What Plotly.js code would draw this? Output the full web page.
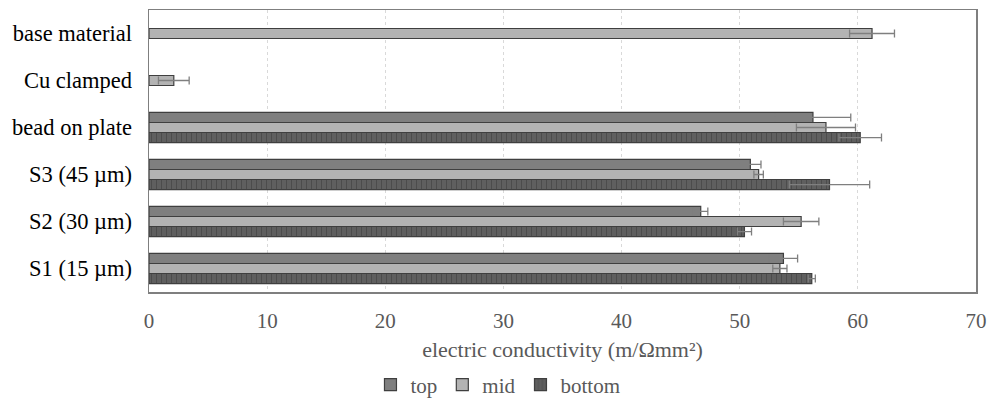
<!DOCTYPE html>
<html>
<head>
<meta charset="utf-8">
<script src="https://cdn.plot.ly/plotly-3.0.1.min.js"></script>
<style>html,body{margin:0;padding:0;background:#fff;}#chart{width:990px;height:399px;}</style>
</head>
<body>
<div id="chart"></div>
<script>
// categories listed top to bottom (y axis reversed)
const categories = ["base material", "Cu clamped", "bead on plate", "S3 (45 µm)", "S2 (30 µm)", "S1 (15 µm)"];
const topValues    = [null, null, 56.2, 50.9, 46.7, 53.7];
const topErrors    = [null, null, 3.2, 0.9, 0.6, 1.2];
const midValues    = [61.2, 2.1, 57.3, 51.6, 55.2, 53.4];
const midErrors    = [1.9, 1.3, 2.5, 0.4, 1.5, 0.6];
const bottomValues = [null, null, 60.2, 57.6, 50.4, 56.1];
const bottomErrors = [null, null, 1.8, 3.4, 0.6, 0.3];
const xTicks = [0, 10, 20, 30, 40, 50, 60, 70];

const SERIF = 'Liberation Serif';

const errStyle = (arr) => ({type: 'data', array: arr, symmetric: true, visible: true,
  color: '#7f7f7f', thickness: 1.3, width: 4});

const traces = [
  {name: 'top', type: 'bar', orientation: 'h', y: categories, x: topValues,
   error_x: errStyle(topErrors),
   marker: {color: '#7f7f7f', line: {color: '#3f3f3f', width: 1.2}}},
  {name: 'mid', type: 'bar', orientation: 'h', y: categories, x: midValues,
   error_x: errStyle(midErrors),
   marker: {color: '#b3b3b3', line: {color: '#3f3f3f', width: 1.2}}},
  {name: 'bottom', type: 'bar', orientation: 'h', y: categories, x: bottomValues,
   error_x: errStyle(bottomErrors),
   marker: {color: '#5a5a5a', line: {color: '#3f3f3f', width: 1.2},
            pattern: {shape: '|', fgcolor: '#4c4c4c', bgcolor: '#5f5f5f', size: 5, solidity: 0.2}}}
];

const layout = {
  width: 990, height: 399,
  margin: {l: 149, r: 14, t: 10, b: 107},
  paper_bgcolor: '#fff', plot_bgcolor: '#fff',
  barmode: 'group', bargap: 0.36, bargroupgap: 0,
  font: {family: SERIF, size: 21, color: '#595959'},
  xaxis: {
    range: [0, 70], tickvals: xTicks, ticktext: xTicks.map(String),
    showgrid: true, gridcolor: '#d9d9d9', griddash: 'dot', gridwidth: 1,
    zeroline: false, showline: true, mirror: true, linecolor: '#7f7f7f', linewidth: 1.5,
    ticks: '', ticklen: 0, ticklabelstandoff: 9,
    tickfont: {family: SERIF, size: 21, color: '#595959'},
    title: {text: 'electric conductivity (m/Ωmm²)', standoff: 10,
            font: {family: SERIF, size: 22, color: '#595959'}}
  },
  yaxis: {
    type: 'category', autorange: 'reversed',
    showgrid: false, zeroline: false, showline: true, mirror: true,
    linecolor: '#7f7f7f', linewidth: 1.5, ticks: '', ticklabelstandoff: 11,
    tickfont: {family: SERIF, size: 22.5, color: '#000'}
  },
  showlegend: true,
  legend: {orientation: 'h', xref: 'container', yref: 'container', x: 0.503, xanchor: 'center',
           y: 0.035, yanchor: 'middle',
           font: {family: SERIF, size: 21, color: '#595959'},
           itemwidth: 30, tracegroupgap: 0}
};

Plotly.newPlot('chart', traces, layout, {displayModeBar: false, staticPlot: true});
</script>
</body>
</html>
